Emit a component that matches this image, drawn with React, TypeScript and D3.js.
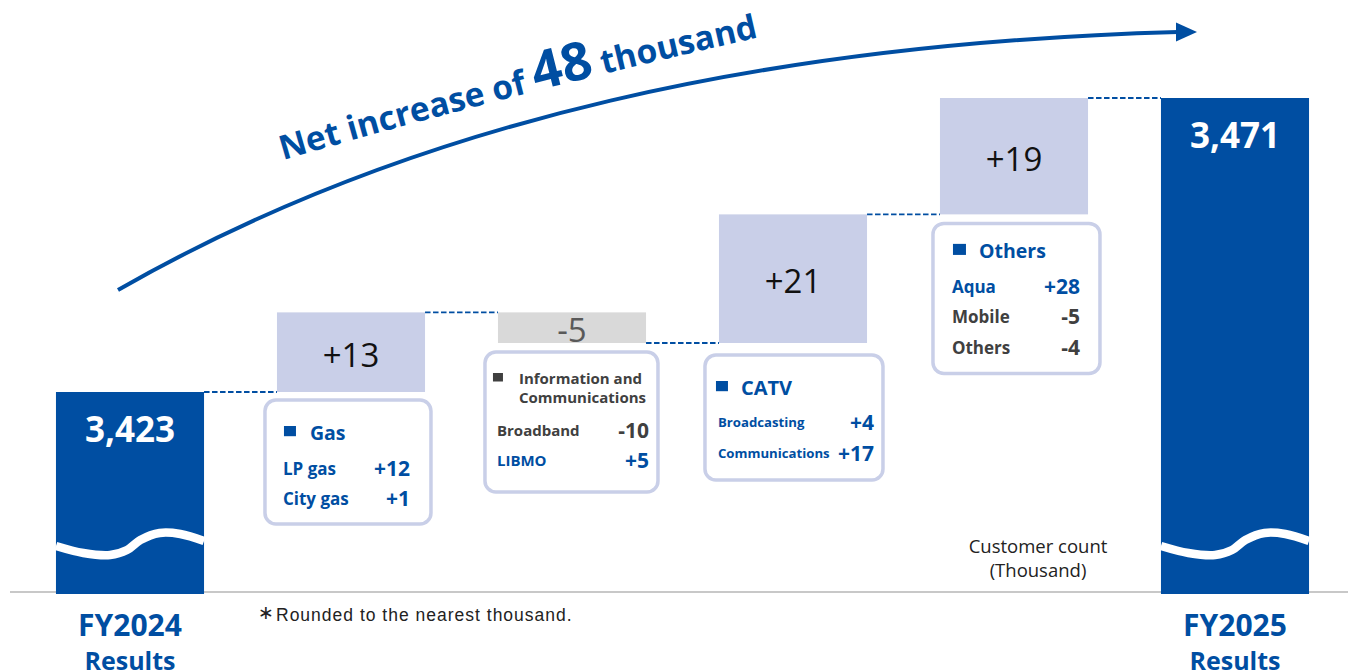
import React from "react";
import * as d3 from "d3";

// ---------- data ----------
const categories = ["FY2024", "Gas", "InfoComm", "CATV", "Others", "FY2025"];
const startTotal = 3423;
const endTotal = 3471;
const deltas = [13, -5, 21, 19];
const deltaLabels = ["+13", "-5", "+21", "+19"];
const totalLabels = ["3,423", "3,471"];
const periodLabels = [["FY2024", "Results"], ["FY2025", "Results"]];
const segmentTitles = [["Gas"], ["Information and", "Communications"], ["CATV"], ["Others"]];
const gasRows = [
  { label: "LP gas", value: "+12", up: true },
  { label: "City gas", value: "+1", up: true },
];
const infoRows = [
  { label: "Broadband", value: "-10", up: false },
  { label: "LIBMO", value: "+5", up: true },
];
const catvRows = [
  { label: "Broadcasting", value: "+4", up: true },
  { label: "Communications", value: "+17", up: true },
];
const othersRows = [
  { label: "Aqua", value: "+28", up: true },
  { label: "Mobile", value: "-5", up: false },
  { label: "Others", value: "-4", up: false },
];
const segmentRows = [gasRows, infoRows, catvRows, othersRows];
const titleParts = ["Net increase of ", "48", " thousand"];
const unitLines = ["Customer count", "(Thousand)"];
const footnoteMark = "∗";
const footnote = "Rounded to the nearest thousand.";

// ---------- style ----------
const W = 1348;
const H = 671;
const BLUE = "#004EA2";
const LAV = "#C9CFE8";
const NEG = "#D9D9D9";
const GRAY = "#404040";
const FONT = "'Open Sans', 'Noto Sans', sans-serif";
const BASE_Y = 592;

const boxLayout = [
  { dx: -12, gap: 8, w: 166, h: 124, markX: 19, markS: 12, headX: 45, headY: [32], headSize: 19.5, rowX: 18, rowY: [68, 98], labelSize: 17, valueRight: 145, valueSize: 21 },
  { dx: -13, gap: 9, w: 173, h: 140, markX: 8, markS: 10, headX: 34, headY: [26, 45], headSize: 15, rowX: 12, rowY: [78, 108], labelSize: 15, valueRight: 164, valueSize: 21 },
  { dx: -14, gap: 12, w: 178, h: 125, markX: 11, markS: 12, headX: 36, headY: [32], headSize: 20, rowX: 13, rowY: [67, 98], labelSize: 13.2, valueRight: 169, valueSize: 21 },
  { dx: -7, gap: 9, w: 167, h: 150, markX: 20, markS: 13, headX: 46, headY: [27], headSize: 19.5, rowX: 19, rowY: [63, 93, 124], labelSize: 17, valueRight: 147, valueSize: 21 },
];

// wave (relative x fraction, y offset from bar bottom)
const waveShape: [number, number][] = [
  [0, -46], [0.185, -39], [0.366, -37], [0.48, -42], [0.57, -52], [0.7, -59], [0.84, -58], [1, -51],
];

export default function App() {
  const x = d3
    .scaleBand<string>()
    .domain(categories)
    .range([19.5, 1345.5])
    .paddingInner(0.33)
    .paddingOuter(0.165);
  const bw = x.bandwidth();
  const y = d3.scaleLinear().domain([startTotal, endTotal]).range([392, 98]);

  // waterfall steps
  let cum = startTotal;
  const steps = deltas.map((d, i) => {
    const from = cum;
    cum += d;
    return { cat: categories[i + 1], from, to: cum, d, label: deltaLabels[i], i };
  });
  const totals = [
    { cat: categories[0], v: startTotal, label: totalLabels[0], period: periodLabels[0] },
    { cat: categories[5], v: endTotal, label: totalLabels[1], period: periodLabels[1] },
  ];
  const levels = [startTotal, ...steps.map((s) => s.to)];

  const waveLine = d3
    .line<[number, number]>()
    .x((p) => p[0])
    .y((p) => p[1])
    .curve(d3.curveCatmullRom.alpha(0.5));

  const arrowPath = "M118,290 C418,118 778,43 1178,32";
  const titlePath = "M283,160 Q522,90 800,28";

  return (
    <svg
      width={W}
      height={H}
      style={{ position: "absolute", left: 0, top: 0, background: "#fff" }}
      fontFamily={FONT}
    >
      <defs>
        <path id="titlePath" d={titlePath} fill="none" />
      </defs>

      {/* baseline */}
      <line x1={10} x2={W} y1={BASE_Y} y2={BASE_Y} stroke="#C8C8C8" strokeWidth={2} />

      {/* arrow */}
      <path d={arrowPath} fill="none" stroke={BLUE} strokeWidth={4} />
      <polygon points="1176,22.5 1197,32 1176,41.5" fill={BLUE} />
      <text fill={BLUE} fontWeight={700} fontSize={33.5}>
        <textPath href="#titlePath">
          {titleParts[0]}
          <tspan fontSize={53}>{titleParts[1]}</tspan>
          <tspan fontSize={33.5}>{titleParts[2]}</tspan>
        </textPath>
      </text>

      {/* connectors */}
      {levels.map((lv, i) => {
        const x1 = (x(categories[i]) as number) + bw;
        const x2 = x(categories[i + 1]) as number;
        return (
          <line
            key={"c" + i}
            x1={x1}
            x2={x2}
            y1={y(lv)}
            y2={y(lv)}
            stroke={BLUE}
            strokeWidth={1.8}
            strokeDasharray="5.5,2.5"
          />
        );
      })}

      {/* totals */}
      {totals.map((t) => {
        const x0 = x(t.cat) as number;
        const top = y(t.v);
        const wave = waveShape.map(([fx, dy]) => [x0 + fx * bw, BASE_Y + dy] as [number, number]);
        return (
          <g key={t.cat}>
            <rect x={x0} y={top} width={bw} height={BASE_Y - top + 2} fill={BLUE} />
            <path d={waveLine(wave) || ""} fill="none" stroke="#fff" strokeWidth={8.5} />
            <text
              x={x0 + bw / 2}
              y={top + 36}
              textAnchor="middle"
              dominantBaseline="central"
              fill="#fff"
              fontWeight={700}
              fontSize={35}
            >
              {t.label}
            </text>
            <text x={x0 + bw / 2} y={624} textAnchor="middle" dominantBaseline="central" fill={BLUE} fontWeight={700} fontSize={30}>
              {t.period[0]}
            </text>
            <text x={x0 + bw / 2} y={660} textAnchor="middle" dominantBaseline="central" fill={BLUE} fontWeight={700} fontSize={25}>
              {t.period[1]}
            </text>
          </g>
        );
      })}

      {/* steps */}
      {steps.map((s) => {
        const x0 = x(s.cat) as number;
        const yTop = Math.min(y(s.from), y(s.to));
        const yBot = Math.max(y(s.from), y(s.to));
        const pos = s.d >= 0;
        const L = boxLayout[s.i];
        const bx = x0 + L.dx;
        const by = yBot + L.gap;
        const headColor = pos ? BLUE : GRAY;
        return (
          <g key={s.cat}>
            <rect x={x0} y={yTop} width={bw} height={yBot - yTop} fill={pos ? LAV : NEG} />
            <text
              x={x0 + bw / 2}
              y={(yTop + yBot) / 2 + 2}
              textAnchor="middle"
              dominantBaseline="central"
              fill={pos ? "#111" : "#595959"}
              fontSize={33}
            >
              {s.label}
            </text>
            {/* detail box */}
            <rect x={bx} y={by} width={L.w} height={L.h} rx={11} fill="#fff" stroke={LAV} strokeWidth={3.5} />
            <rect
              x={bx + L.markX}
              y={by + L.headY[0] - L.markS / 2}
              width={L.markS}
              height={L.markS * 0.85}
              fill={headColor}
            />
            {segmentTitles[s.i].map((t, j) => (
              <text
                key={j}
                x={bx + L.headX}
                y={by + L.headY[j]}
                dominantBaseline="central"
                fill={headColor}
                fontWeight={700}
                fontSize={L.headSize}
              >
                {t}
              </text>
            ))}
            {segmentRows[s.i].map((r, j) => (
              <g key={r.label}>
                <text
                  x={bx + L.rowX}
                  y={by + L.rowY[j]}
                  dominantBaseline="central"
                  fill={r.up ? BLUE : GRAY}
                  fontWeight={700}
                  fontSize={L.labelSize}
                >
                  {r.label}
                </text>
                <text
                  x={bx + L.valueRight}
                  y={by + L.rowY[j]}
                  textAnchor="end"
                  dominantBaseline="central"
                  fill={r.up ? BLUE : GRAY}
                  fontWeight={700}
                  fontSize={L.valueSize}
                >
                  {r.value}
                </text>
              </g>
            ))}
          </g>
        );
      })}

      {/* unit note */}
      {unitLines.map((t, i) => (
        <text key={t} x={1038} y={545 + i * 24} textAnchor="middle" dominantBaseline="central" fill="#222" fontSize={18.5}>
          {t}
        </text>
      ))}
      <text x={258} y={612} dominantBaseline="central" fill="#222" fontSize={19} fontFamily="'DejaVu Sans', sans-serif">
        {footnoteMark}
      </text>
      <text
        x={276}
        y={615}
        dominantBaseline="central"
        fill="#222"
        fontSize={17.5}
        letterSpacing={1}
        fontFamily="'Liberation Sans', Arial, sans-serif"
      >
        {footnote}
      </text>
    </svg>
  );
}
